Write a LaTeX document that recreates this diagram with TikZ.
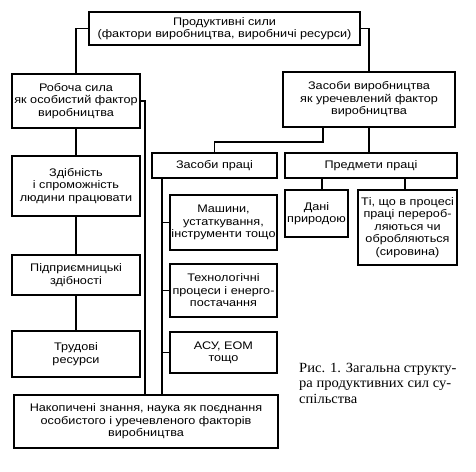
\documentclass[tikz,border=0pt]{standalone}
\usepackage{fontspec}
\setmainfont{Liberation Sans}[FakeStretch=1.15]
\newfontfamily\capfont{Liberation Serif}[FakeStretch=1.04]
\begin{document}
\begin{tikzpicture}[x=1pt,y=-1pt,
  box/.style={draw, line width=1.1pt, align=center, inner sep=0pt,
    font=\fontsize{11}{12.5}\selectfont},
  conn/.style={line width=1.1pt}]
\useasboundingbox (0,0) rectangle (476,471);
\node[box, minimum width=271pt, minimum height=33pt] (top) at (224.5,28.5)
  {Продуктивні сили\\(фактори виробництва, виробничі ресурси)};
\node[box, minimum width=128pt, minimum height=54pt] (rob) at (76,101)
  {Робоча сила\\як особистий фактор\\виробництва};
\node[box, minimum width=172pt, minimum height=55pt] (zv) at (369,99.5)
  {Засоби виробництва\\як уречевлений фактор\\виробництва};
\node[box, minimum width=128pt, minimum height=60pt] (zd) at (76,186)
  {Здібність\\і спроможність\\людини працювати};
\node[box, minimum width=128pt, minimum height=40pt] (pid) at (76,275)
  {Підприємницькі\\здібності};
\node[box, minimum width=128pt, minimum height=46pt] (trud) at (76,354)
  {Трудові\\ресурси};
\node[box, minimum width=264pt, minimum height=53pt] (nak) at (146,421.5)
  {Накопичені знання, наука як поєднання\\особистого і уречевленого факторів\\виробництва};
\node[box, minimum width=125pt, minimum height=25pt] (zp) at (214.5,165.5)
  {Засоби праці};
\node[box, minimum width=172pt, minimum height=25pt] (pp) at (371,165.5)
  {Предмети праці};
\node[box, minimum width=107pt, minimum height=55pt] (mash) at (223.5,222.5)
  {Машини,\\устаткування,\\інструменти тощо};
\node[box, minimum width=107pt, minimum height=53pt] (tech) at (223.5,290.5)
  {Технологічні\\процеси і енерго-\\постачання};
\node[box, minimum width=107pt, minimum height=41pt] (asu) at (223.5,352.5)
  {АСУ, ЕОМ\\тощо};
\node[box, minimum width=63pt, minimum height=47pt] (dani) at (316.5,213.5)
  {Дані\\природою};
\node[box, minimum width=99pt, minimum height=75pt] (ti) at (407.5,227.5)
  {Ті, що в процесі\\праці перероб-\\ляються чи\\обробляються\\(сировина)};
\node[anchor=north west, align=left, inner sep=0pt,
  font=\capfont\fontsize{14}{15.5}\selectfont] (cap) at (299,363)
  {Рис. 1. Загальна структу-\\ра продуктивних сил су-\\спільства};
% connectors
\coordinate (vl) at (145,0);
\coordinate (v2) at (162,0);
\coordinate (j1) at (323,142);
\coordinate (d1) at (322,0);
\coordinate (d2) at (405,0);
\draw[conn] (top.west) -| (rob.north);
\draw[conn] (top.east) -| (zv.north);
\draw[conn] (rob.south) -- (zd.north);
\draw[conn] (zd.south) -- (pid.north);
\draw[conn] (pid.south) -- (trud.north);
\draw[conn] (rob.east) -| (vl |- nak.north);
\draw[conn] (j1 |- zv.south) -- (j1) -| (zp.north);
\draw[conn] (zv.south) -- (zv.south |- pp.north);
\draw[conn] (v2 |- zp.south) -- (v2 |- nak.north);
\draw[conn] (v2 |- mash.west) -- (mash.west);
\draw[conn] (v2 |- tech.west) -- (tech.west);
\draw[conn] (v2 |- asu.west) -- (asu.west);
\draw[conn] (d1 |- pp.south) -- (d1 |- dani.north);
\draw[conn] (d2 |- pp.south) -- (d2 |- ti.north);
\end{tikzpicture}
\end{document}
